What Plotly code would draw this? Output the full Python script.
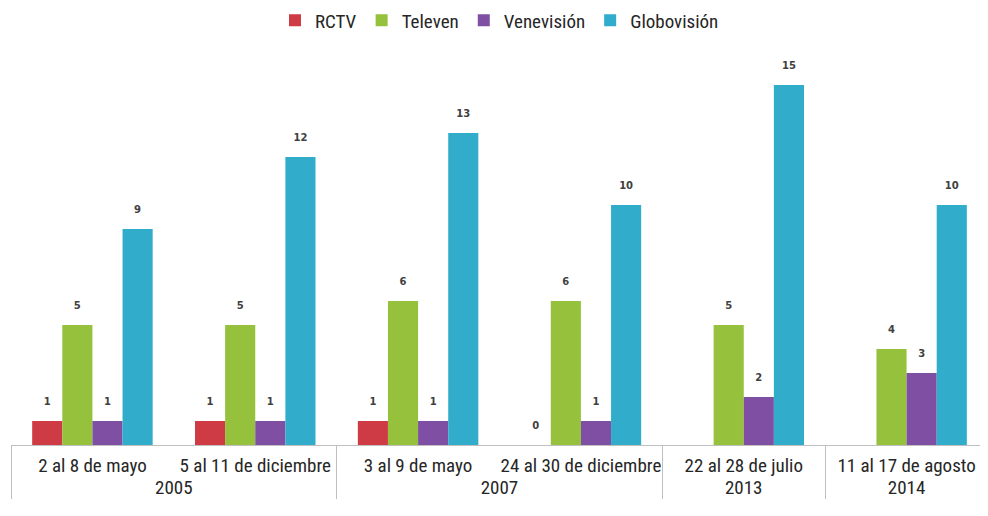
import plotly.graph_objects as go

years = ["2005", "2005", "2007", "2007", "2013", "2014"]
weeks = ["2 al 8 de mayo", "5 al 11 de diciembre", "3 al 9 de mayo",
         "24 al 30 de diciembre", "22 al 28 de julio", "11 al 17 de agosto"]

series_names = ["RCTV", "Televen", "Venevisión", "Globovisión"]
rctv = [1, 1, 1, 0, None, None]
televen = [5, 5, 6, 6, 5, 4]
venevision = [1, 1, 1, 1, 2, 3]
globovision = [9, 12, 13, 10, 15, 10]
colors = ["#CF3B44", "#95C13D", "#7E4FA3", "#31ADCB"]

font_family = "Liberation Sans Narrow, Arial Narrow, Roboto Condensed, Liberation Sans, Arial"

fig = go.Figure()
for name, vals, col in zip(series_names, [rctv, televen, venevision, globovision], colors):
    fig.add_trace(go.Bar(
        x=[years, weeks], y=vals, name=name,
        marker=dict(color=col, line=dict(width=0)),
        text=[("" if v is None else f"{v}<br><span style='font-size:2px'> </span>") for v in vals],
        textposition="outside",
        textfont=dict(size=10, color="#404040", family="DejaVu Sans, Arial", weight="bold"),
        cliponaxis=False,
    ))

# page body has an 8px default margin: figure is sized to fit the 988x516 window
fig.update_layout(
    width=980, height=508,
    margin=dict(l=3, r=0, t=47, b=71, autoexpand=False),
    paper_bgcolor="white", plot_bgcolor="white",
    barmode="group", bargap=0.26, bargroupgap=0,
    font=dict(family=font_family, size=19, color="#262626"),
    legend=dict(orientation="h", x=0.5, xanchor="center", y=1.04, yanchor="bottom",
                font=dict(size=19), traceorder="normal", itemwidth=30),
    showlegend=True,
)
fig.update_xaxes(
    type="multicategory", showline=True, linecolor="#BFBFBF", linewidth=1,
    showdividers=True, dividercolor="#BFBFBF", dividerwidth=1,
    ticks="", automargin=False, tickangle=0, ticklabelstandoff=3,
    tickfont=dict(size=19, family=font_family, color="#262626"),
)
fig.update_yaxes(visible=False, range=[0, 16.25], showgrid=False, automargin=False)

fig.write_html("out.html")
